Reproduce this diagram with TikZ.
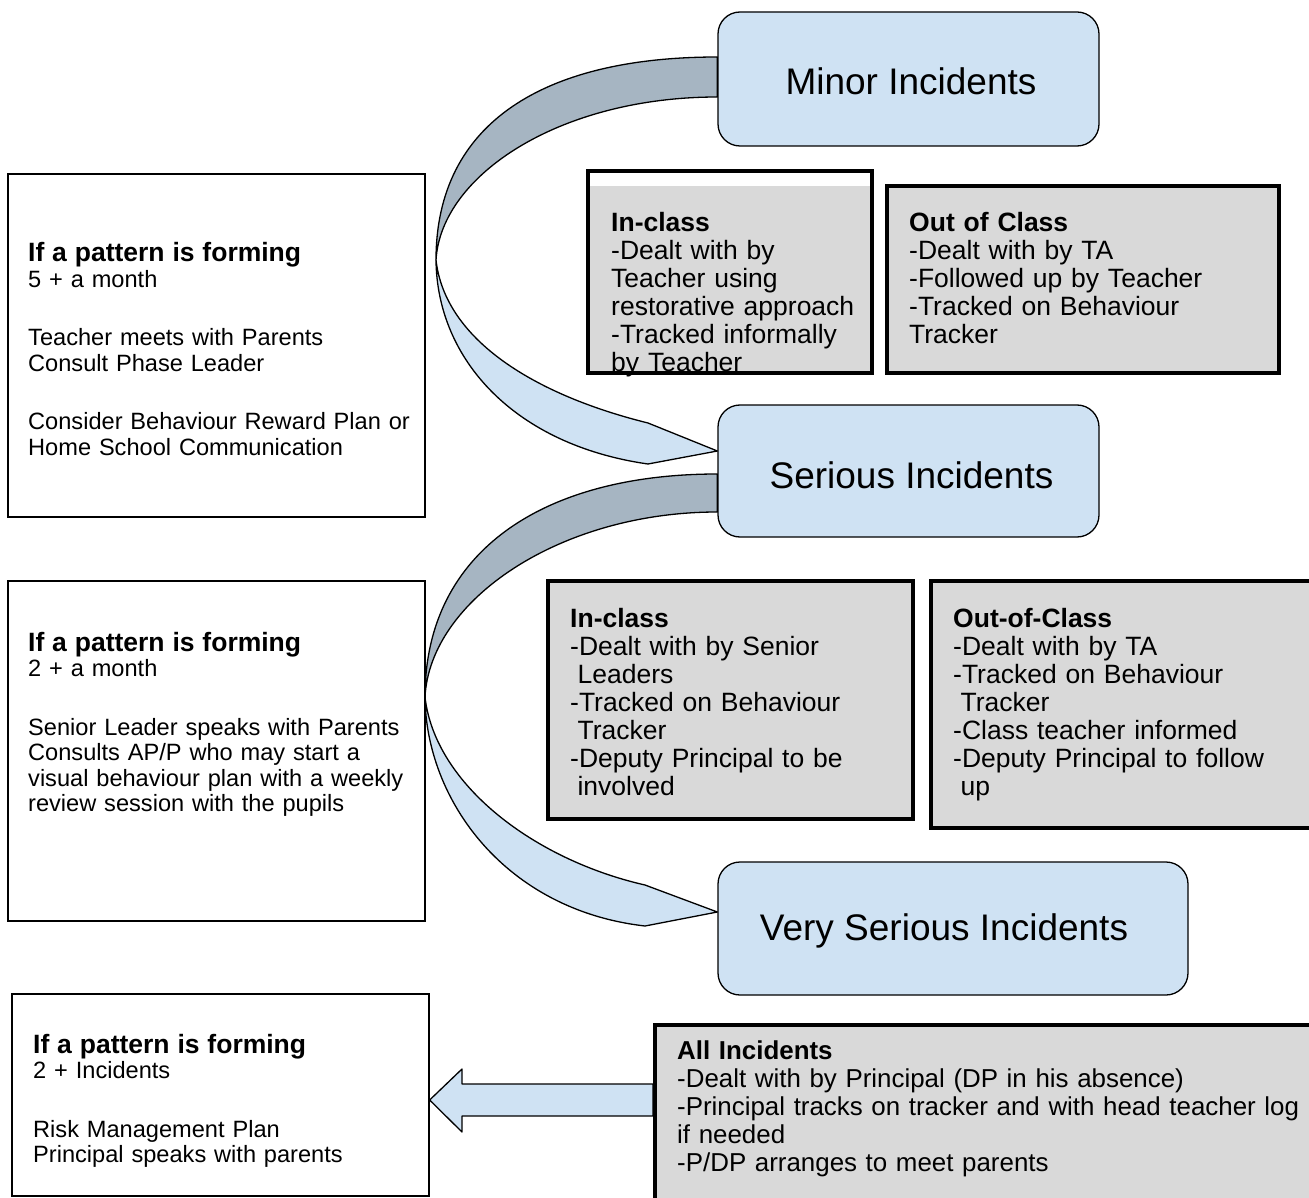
\documentclass[tikz,border=0pt]{standalone}
\usepackage{fontspec}
\setmainfont{Liberation Sans}
\definecolor{boxblue}{RGB}{207,226,243}
\definecolor{ribbondark}{RGB}{166,181,194}
\definecolor{boxgray}{RGB}{217,217,217}
\pgfdeclarelayer{paper}
\pgfdeclarelayer{under}
\pgfsetlayers{paper,under,main}
\begin{document}
\begin{tikzpicture}[x=1pt,y=-1pt,
  titlebox/.style={draw=black, line width=1.3pt, fill=boxblue, rounded corners=22pt, inner sep=0,
    font=\fontsize{37}{40}\selectfont},
  graybox/.style={draw=black, line width=4pt, inner sep=0},
  sidebox/.style={draw=black, line width=1.3pt, fill=white, inner sep=0},
  ribbon/.style={draw=black, line width=1.3pt, line join=round},
  txt/.style={anchor=base west, inner sep=0, text width=640pt, align=left},
  body/.style={font=\fontsize{26.5}{28}\selectfont},
  side/.style={font=\fontsize{23.6}{25.5}\selectfont},
  ]
\begin{pgfonlayer}{paper}
\fill[white] (0,0) rectangle (1309,1198);
\end{pgfonlayer}
\useasboundingbox (0,0) rectangle (1309,1198);

% title boxes
\node[titlebox, minimum width=381pt, minimum height=134pt] (minor) at (908.5,79)
  {\raisebox{-2pt}[\height][\depth]{\hspace*{5pt}Minor Incidents}};
\node[titlebox, minimum width=381pt, minimum height=132pt] (serious) at (908.5,471)
  {\raisebox{-4pt}[\height][\depth]{\hspace*{6pt}Serious Incidents}};
\node[titlebox, minimum width=470pt, minimum height=133pt] (vserious) at (953,928.5)
  {\raisebox{-2pt}[\height][\depth]{Very Serious Incidents\hspace*{18pt}}};

% side boxes
\node[sidebox, minimum width=417pt, minimum height=343pt] (left1) at (216.5,345.5) {};
\node[sidebox, minimum width=417pt, minimum height=340pt] (left2) at (216.5,751) {};
\node[sidebox, minimum width=417pt, minimum height=202pt] (left3) at (220.5,1095) {};

% gray boxes
\fill[boxgray] (588,186) rectangle (872,373);
\node[graybox, fill=boxgray, minimum width=392pt, minimum height=187pt] (out1) at (1083,279.5) {};
\node[graybox, fill=boxgray, minimum width=365pt, minimum height=238pt] (inc2) at (730.5,700) {};
\node[graybox, fill=boxgray, minimum width=384pt, minimum height=247pt] (out2) at (1123,704.5) {};
\node[graybox, fill=boxgray, minimum width=660pt, minimum height=177pt] (all) at (985,1113.5) {};

% texts
\node[txt, body] (inc1t) at (611,232) {\textbf{In-class}\\-Dealt with by\\Teacher using\\restorative approach\\-Tracked informally\\by Teacher};
\node[graybox, minimum width=284pt, minimum height=202pt] (inc1) at (730,272) {};
\node[txt, body] (out1t) at (909,232) {\textbf{Out of Class}\\-Dealt with by TA\\-Followed up by Teacher\\-Tracked on Behaviour\\Tracker};
\node[txt, body] (inc2t) at (570,627) {\textbf{In-class}\\-Dealt with by Senior\\\hspace*{7.4pt}Leaders\\-Tracked on Behaviour\\\hspace*{7.4pt}Tracker\\-Deputy Principal to be\\\hspace*{7.4pt}involved};
\node[txt, body] (out2t) at (953,627) {\textbf{Out-of-Class}\\-Dealt with by TA\\-Tracked on Behaviour\\\hspace*{7.4pt}Tracker\\-Class teacher informed\\-Deputy Principal to follow\\\hspace*{7.4pt}up};
\node[txt, font=\fontsize{25.9}{28}\selectfont] (allt) at (677,1059) {\textbf{All Incidents}\\-Dealt with by Principal (DP in his absence)\\-Principal tracks on tracker and with head teacher log\\if needed\\-P/DP arranges to meet parents};

\node[txt, side] (left1t) at (28,262) {{\fontsize{26.5}{28}\selectfont\bfseries If a pattern is forming}\\5 + a month\\[33pt]Teacher meets with Parents\\Consult Phase Leader\\[33pt]Consider Behaviour Reward Plan or\\Home School Communication};
\node[txt, side] (left2t) at (28,651) {{\fontsize{26.5}{28}\selectfont\bfseries If a pattern is forming}\\2 + a month\\[33pt]Senior Leader speaks with Parents\\Consults AP/P who may start a\\visual behaviour plan with a weekly\\review session with the pupils};
\node[txt, side] (left3t) at (33,1053) {{\fontsize{26.5}{28}\selectfont\bfseries If a pattern is forming}\\2 + Incidents\\[33pt]Risk Management Plan\\Principal speaks with parents};

% ribbons and arrow
\begin{pgfonlayer}{under}
\draw[ribbon, fill=ribbondark] (minor.west |- 0,57) .. controls (545,57) and (436,122) .. (436,260)
  .. controls (441,175) and (560,97) .. (minor.west |- 0,97) -- cycle;
\draw[ribbon, fill=boxblue] (436,260) .. controls (437,360) and (515,445) .. (648,464)
  -- (serious.west |- 0,451) -- (648,423) .. controls (535,395) and (445,340) .. (436,260) -- cycle;
\draw[ribbon, fill=ribbondark] (serious.west |- 0,474) .. controls (545,474) and (425,550) .. (425,697)
  .. controls (430,600) and (560,512) .. (serious.west |- 0,512) -- cycle;
\draw[ribbon, fill=boxblue] (425,697) .. controls (426,800) and (505,910) .. (645,926)
  -- (vserious.west |- 0,912) -- (645,885) .. controls (535,860) and (435,785) .. (425,697) -- cycle;
\draw[ribbon, fill=boxblue] (all.west |- 0,1084) -- (462,1084) -- (462,1069) -- (left3.east |- 0,1100)
  -- (462,1132) -- (462,1116) -- (all.west |- 0,1116) -- cycle;
\end{pgfonlayer}
\end{tikzpicture}
\end{document}
